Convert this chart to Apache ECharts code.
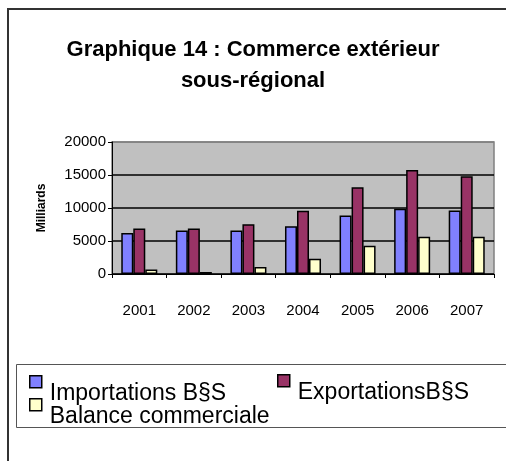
<!DOCTYPE html>
<html><head><meta charset="utf-8">
<script src="https://cdn.jsdelivr.net/npm/echarts@6/dist/echarts.min.js"></script>
<style>html,body{margin:0;padding:0;background:#fff;}#c{width:506px;height:461px;}</style>
</head><body><div id="c"></div>
<script>
var years = ['2001','2002','2003','2004','2005','2006','2007'];
var importations = [6200, 6600, 6600, 7250, 8870, 9870, 9620];
var exportations = [6900, 6900, 7550, 9570, 13150, 15770, 14810];
var balance = [700, 300, 1050, 2300, 4280, 5640, 5640];
var seriesNames = ['Importations B§S', 'ExportationsB§S', 'Balance commerciale'];
var yTicks = [0, 5000, 10000, 15000, 20000];

var chart = echarts.init(document.getElementById('c'), null, {renderer: 'canvas'});
var font = 'Arial, "Liberation Sans", sans-serif';
function legendAt(name, left, top) {
  return {
    data: [name], left: left, top: top, orient: 'horizontal',
    itemWidth: 12, itemHeight: 12, itemGap: 0, padding: 0, selectedMode: false,
    icon: 'rect',
    itemStyle: {borderColor: '#000', borderWidth: 1.5},
    formatter: '{t|{name}}',
    textStyle: {fontFamily: font, fontSize: 23, color: '#000',
      rich: {t: {fontFamily: font, fontSize: 23, color: '#000', padding: [24, 0, 0, 3]}}}
  };
}
var barStyle = function (c) { return {color: c, borderColor: '#000', borderWidth: 1.5}; };
chart.setOption({
  animation: false,
  backgroundColor: '#fff',
  title: {
    text: 'Graphique 14 : Commerce extérieur\nsous-régional',
    left: 'center', top: 29,
    textStyle: {fontFamily: font, fontSize: 22, fontWeight: 'bold', color: '#000', lineHeight: 31}
  },
  graphic: [
    {type: 'rect', shape: {x: 8, y: 9, width: 700, height: 700}, style: {fill: 'none', stroke: '#333', lineWidth: 2}, z: -1},
    {type: 'rect', shape: {x: 16.5, y: 364.5, width: 700, height: 63}, style: {fill: 'none', stroke: '#555', lineWidth: 1}, z: -1}
  ],
  legend: [
    legendAt(seriesNames[0], 29, 375),
    legendAt(seriesNames[1], 277, 374),
    legendAt(seriesNames[2], 29, 398)
  ],
  grid: {left: 112, top: 142, right: 12, bottom: 187, show: true, backgroundColor: '#c0c0c0', borderColor: '#808080', borderWidth: 1.5},
  xAxis: {
    type: 'category', data: years,
    axisLine: {lineStyle: {color: '#000', width: 1}},
    axisTick: {show: true, alignWithLabel: false, length: 4, lineStyle: {color: '#000'}},
    axisLabel: {fontFamily: font, fontSize: 15, color: '#000', margin: 29}
  },
  yAxis: {
    type: 'value', min: yTicks[0], max: yTicks[yTicks.length - 1], interval: 5000,
    name: 'Milliards', nameLocation: 'middle', nameGap: 64, nameRotate: 90,
    nameTextStyle: {fontFamily: font, fontSize: 12, fontWeight: 900, color: '#000'},
    axisLine: {show: true, lineStyle: {color: '#000', width: 1}},
    axisTick: {show: true, length: 4, lineStyle: {color: '#000'}},
    axisLabel: {fontFamily: font, fontSize: 15, color: '#000', margin: 6, formatter: function (v) { return String(v); }},
    splitLine: {show: true, lineStyle: {color: ['#000', '#000', '#000', '#000', '#808080'], width: 1.5}}
  },
  series: [
    {name: seriesNames[0], type: 'bar', data: importations, itemStyle: barStyle('#8080ff'), barGap: '0%', barCategoryGap: '34%'},
    {name: seriesNames[1], type: 'bar', data: exportations, itemStyle: barStyle('#993366')},
    {name: seriesNames[2], type: 'bar', data: balance, itemStyle: barStyle('#ffffcc')}
  ]
});
</script></body></html>
